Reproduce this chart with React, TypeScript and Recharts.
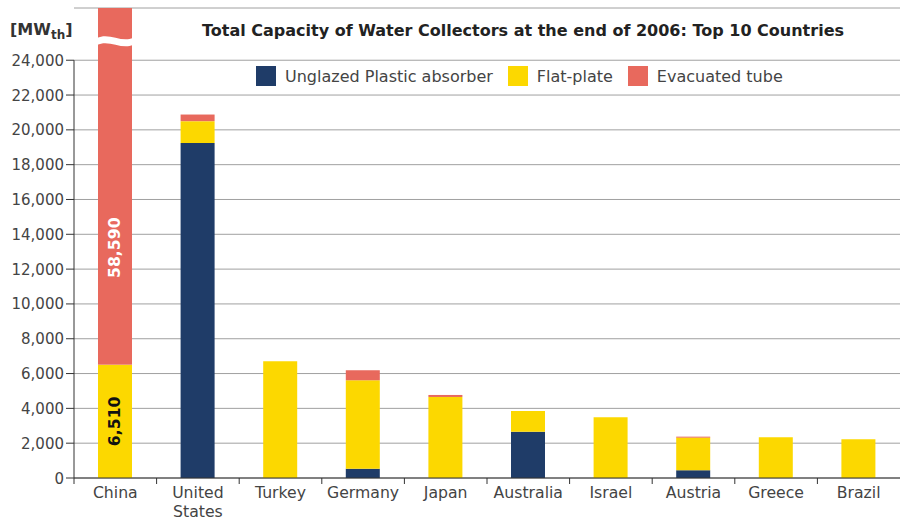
import React from 'react'
import {
  Bar,
  BarChart,
  CartesianGrid,
  LabelList,
  Legend,
  ReferenceLine,
  XAxis,
  YAxis,
} from 'recharts'

const countries = [
  'China',
  'United States',
  'Turkey',
  'Germany',
  'Japan',
  'Australia',
  'Israel',
  'Austria',
  'Greece',
  'Brazil',
]
const unglazed = [0, 19250, 0, 530, 0, 2660, 0, 440, 0, 0]
const flatPlate = [6510, 1250, 6700, 5085, 4655, 1190, 3490, 1880, 2340, 2225]
const evacuated = [58590, 380, 0, 575, 115, 0, 0, 55, 0, 0]
const seriesNames = ['Unglazed Plastic absorber', 'Flat-plate', 'Evacuated tube']
const yTicks = [0, 2000, 4000, 6000, 8000, 10000, 12000, 14000, 16000, 18000, 20000, 22000, 24000]
const Y_MAX = 27000 // eje cortado: China se sale del rango

const BLUE = '#1f3c68'
const YELLOW = '#fcd800'
const RED = '#e8695d'
const FONT = '"DejaVu Sans", Verdana, sans-serif'

const data = countries.map((name, i) => ({
  name,
  unglazed: unglazed[i],
  flat: flatPlate[i],
  evacuated: evacuated[i],
}))

const fmt = (v: number) => v.toLocaleString('en-US')

function CountryTick(props: any) {
  const { x, y, payload } = props
  const half = payload.offset ?? 41.3
  const lines = String(payload.value).split(' ')
  return (
    <g>
      <line x1={x - half} y1={y - 6} x2={x - half} y2={y} stroke="#333" />
      <text x={x} y={y + 14} textAnchor="middle" fill="#444" fontSize={15.7} fontFamily={FONT}>
        {lines.map((l, i) => (
          <tspan key={l} x={x} dy={i === 0 ? 0 : 19}>
            {l}
          </tspan>
        ))}
      </text>
    </g>
  )
}

function ValueTick(props: any) {
  const { x, y, payload } = props
  return (
    <text x={x} y={y} dy={5.5} textAnchor="end" fill="#444" fontSize={15} fontFamily={FONT}>
      {fmt(payload.value)}
    </text>
  )
}

// barra de tubos de vacío con el corte ondulado blanco cuando se sale de escala
function EvacShape(props: any) {
  const { x, y, width, height, fill, payload } = props
  if (!height || height <= 0) return null
  const broken = payload.evacuated + payload.flat + payload.unglazed > Y_MAX
  const c = y + 33
  const bx = x - 1
  const ex = x + width + 1
  const w = ex - bx
  return (
    <g>
      <rect x={x} y={y} width={width} height={height} fill={fill} />
      {broken && (
        <path
          d={`M${bx},${c - 3} C${bx + w / 3},${c - 9} ${bx + (2 * w) / 3},${c + 2} ${ex},${c - 3} L${ex},${c + 4} C${bx + (2 * w) / 3},${c + 9} ${bx + w / 3},${c - 2} ${bx},${c + 4} Z`}
          fill="#fff"
        />
      )}
    </g>
  )
}

function FlatLabel(props: any) {
  const { x, y, width, height, value, index } = props
  if (index !== 0) return null
  const cx = x + width / 2
  const cy = y + height / 2
  return (
    <text
      x={cx}
      y={cy}
      transform={`rotate(-90 ${cx} ${cy})`}
      textAnchor="middle"
      dominantBaseline="central"
      fontSize={15.7}
      fontWeight="bold"
      fontFamily={FONT}
      fill="#111"
    >
      {fmt(value)}
    </text>
  )
}

function EvacLabel(props: any) {
  const { x, y, width, height, value, index } = props
  if (index !== 0) return null
  const cx = x + width / 2
  const cy = y + height - 117
  return (
    <text
      x={cx}
      y={cy}
      transform={`rotate(-90 ${cx} ${cy})`}
      textAnchor="middle"
      dominantBaseline="central"
      fontSize={15.7}
      fontWeight="bold"
      fontFamily={FONT}
      fill="#fff"
    >
      {fmt(value)}
    </text>
  )
}

function LegendBox({ payload }: any) {
  const items = [...(payload ?? [])].sort(
    (a: any, b: any) => seriesNames.indexOf(a.value) - seriesNames.indexOf(b.value),
  )
  return (
    <div style={{ display: 'flex', alignItems: 'center', fontFamily: FONT, fontSize: 16, color: '#444' }}>
      {items.map((p: any) => (
        <div key={p.value} style={{ display: 'flex', alignItems: 'center', marginRight: 15 }}>
          <span style={{ width: 20, height: 20, background: p.color, marginRight: 9, display: 'inline-block' }} />
          <span>{p.value}</span>
        </div>
      ))}
    </div>
  )
}

export default function App() {
  return (
    <div style={{ position: 'absolute', left: 0, top: 0, width: 901, height: 521, background: '#fff' }}>
      <div
        style={{
          position: 'absolute',
          left: 10,
          top: 20,
          fontFamily: FONT,
          fontWeight: 'bold',
          fontSize: 16,
          color: '#333',
        }}
      >
        [MW<sub style={{ fontSize: 12 }}>th</sub>]
      </div>
      <div
        style={{
          position: 'absolute',
          left: 180,
          width: 686,
          top: 21,
          textAlign: 'center',
          fontFamily: FONT,
          fontWeight: 'bold',
          fontSize: 16,
          color: '#222',
        }}
      >
        Total Capacity of Water Collectors at the end of 2006: Top 10 Countries
      </div>
      <BarChart width={901} height={521} data={data} margin={{ top: 8, right: 1, left: 0, bottom: 0 }}>
        <CartesianGrid vertical={false} stroke="#a0a0a0" />
        <XAxis
          dataKey="name"
          interval={0}
          height={43}
          tickLine={false}
          tickSize={6}
          tickMargin={0}
          axisLine={{ stroke: '#333' }}
          tick={<CountryTick />}
        />
        <XAxis xAxisId="lin" type="number" domain={[0, 10]} allowDataOverflow hide />
        <YAxis
          width={74}
          domain={[0, Y_MAX]}
          ticks={yTicks}
          allowDataOverflow
          axisLine={false}
          tickLine={{ stroke: '#333' }}
          tickSize={8}
          tickMargin={2}
          tick={<ValueTick />}
        />
        <ReferenceLine
          xAxisId="lin"
          segment={[
            { x: 0, y: 0 },
            { x: 0, y: 24000 },
          ]}
          stroke="#333"
        />
        <Legend
          verticalAlign="middle"
          align="center"
          wrapperStyle={{ top: 66, left: 256, width: 'auto' }}
          content={<LegendBox />}
        />
        <Bar dataKey="unglazed" name={seriesNames[0]} stackId="a" fill={BLUE} barSize={34} isAnimationActive={false} />
        <Bar dataKey="flat" name={seriesNames[1]} stackId="a" fill={YELLOW} barSize={34} isAnimationActive={false}>
          <LabelList dataKey="flat" content={<FlatLabel />} />
        </Bar>
        <Bar
          dataKey="evacuated"
          name={seriesNames[2]}
          stackId="a"
          fill={RED}
          barSize={34}
          shape={<EvacShape />}
          isAnimationActive={false}
        >
          <LabelList dataKey="evacuated" content={<EvacLabel />} />
        </Bar>
      </BarChart>
    </div>
  )
}
